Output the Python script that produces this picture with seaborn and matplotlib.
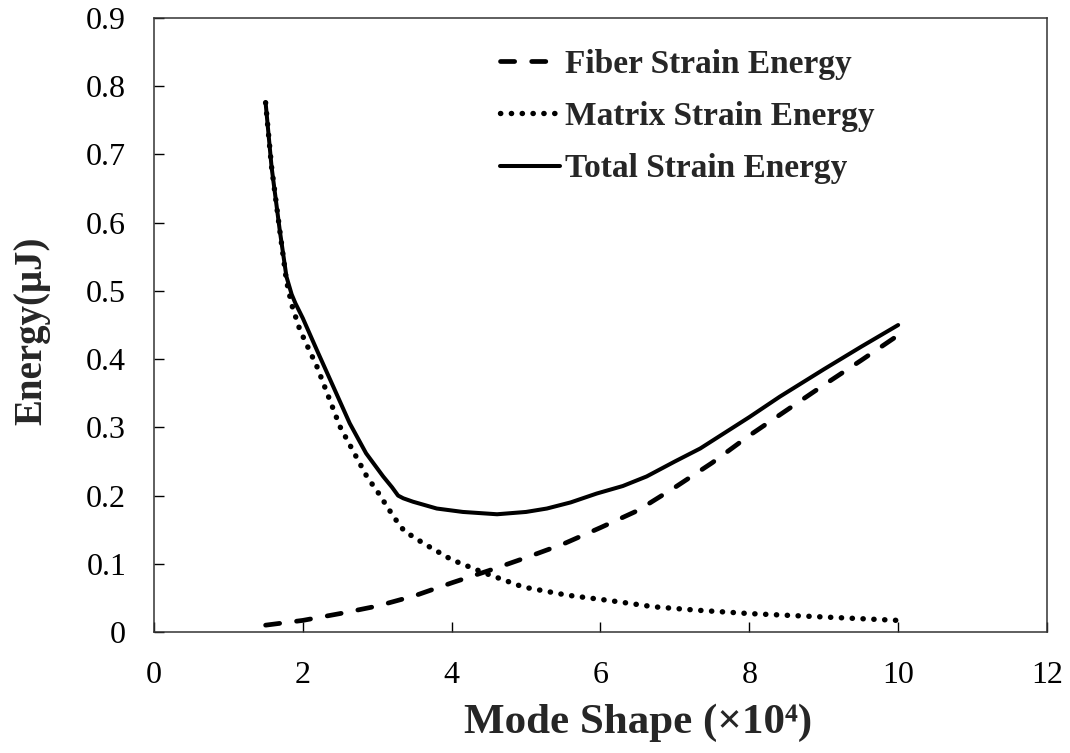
import numpy as np
import pandas as pd
import matplotlib
matplotlib.use("Agg")
import matplotlib.pyplot as plt
import seaborn as sns

# ---- data ----
total_x = [1.5, 1.58, 1.69, 1.78, 1.85, 1.9, 2.0, 2.19, 2.4, 2.63, 2.85, 3.08, 3.2, 3.28,
           3.35, 3.48, 3.8, 4.15, 4.61, 5.0, 5.28, 5.6, 5.95, 6.3, 6.62, 7.0, 7.34, 8.0,
           8.41, 9.0, 9.5, 10.0]
total_y = [0.776, 0.682, 0.589, 0.521, 0.495, 0.482, 0.46, 0.413, 0.362, 0.306, 0.262,
           0.228, 0.212, 0.200, 0.196, 0.191, 0.181, 0.176, 0.1726, 0.176, 0.181, 0.19,
           0.203, 0.214, 0.228, 0.250, 0.269, 0.315, 0.345, 0.385, 0.418, 0.45]

matrix_x = [1.5, 1.58, 1.69, 1.78, 1.85, 1.96, 2.19, 2.5, 2.86, 3.04, 3.13, 3.26, 3.37,
            3.48, 3.62, 4.0, 4.43, 4.96, 5.55, 6.13, 6.71, 7.29, 8.0, 9.0, 10.0]
matrix_y = [0.776, 0.682, 0.589, 0.515, 0.48, 0.443, 0.389, 0.301, 0.228, 0.200, 0.184,
            0.163, 0.147, 0.140, 0.130, 0.106, 0.087, 0.066, 0.054, 0.046, 0.037, 0.032,
            0.027, 0.022, 0.017]

fiber_x = [1.5, 2.0, 2.5, 3.0, 3.5, 4.0, 4.5, 5.0, 5.5, 6.0, 6.5, 7.0, 7.5, 8.0, 8.5,
           9.0, 9.5, 10.0]
fiber_y = [0.010, 0.017, 0.027, 0.038, 0.053, 0.072, 0.090, 0.109, 0.129, 0.153, 0.178,
           0.212, 0.248, 0.288, 0.325, 0.362, 0.398, 0.435]

labels = ["Fiber Strain Energy", "Matrix Strain Energy", "Total Strain Energy"]
x_ticks = [0, 2, 4, 6, 8, 10, 12]
y_ticks = [0, 0.1, 0.2, 0.3, 0.4, 0.5, 0.6, 0.7, 0.8, 0.9]
y_tick_labels = ["0", "0.1", "0.2", "0.3", "0.4", "0.5", "0.6", "0.7", "0.8", "0.9"]

# ---- style ----
sns.set_theme(style="ticks")
plt.rcParams["font.family"] = ["Liberation Serif", "DejaVu Serif"]

fig = plt.figure(figsize=(10.7, 7.53), dpi=100)
ax = fig.add_axes([0.1439, 0.1607, 0.9785 - 0.1439, 0.976 - 0.1607])

fiber_df = pd.DataFrame({"x": fiber_x, "y": fiber_y})
matrix_df = pd.DataFrame({"x": matrix_x, "y": matrix_y})
total_df = pd.DataFrame({"x": total_x, "y": total_y})

sns.lineplot(data=fiber_df, x="x", y="y", ax=ax, color="black", lw=3.4,
             linestyle=(0, (3.0, 3.6)), dash_capstyle="round", label=labels[0])
sns.lineplot(data=matrix_df, x="x", y="y", ax=ax, color="black", lw=3.9,
             linestyle=(0, (0.05, 1.95)), dash_capstyle="round", label=labels[1])
sns.lineplot(data=total_df, x="x", y="y", ax=ax, color="black", lw=2.9,
             solid_capstyle="round", solid_joinstyle="round", label=labels[2])

ax.set_xlim(0, 12)
ax.set_ylim(0, 0.9)
ax.set_xticks(x_ticks)
ax.set_xticklabels([str(t) for t in x_ticks])
ax.set_yticks(y_ticks)
ax.set_yticklabels(y_tick_labels)

ax.tick_params(axis="both", direction="in", length=7, width=1.0, labelsize=23,
               colors="black", pad=20)
ax.tick_params(axis="x", pad=21)
for s in ax.spines.values():
    s.set_linewidth(1.1)
    s.set_color("#333333")

ax.set_xlabel("Mode Shape (×10⁴)", fontsize=31, fontweight="bold")
ax.set_ylabel("Energy(μJ)", fontsize=28, fontweight="bold")
ax.xaxis.set_label_coords(0.542, -0.117)
ax.yaxis.set_label_coords(-0.116, 0.49)

leg = ax.legend(loc="upper left", bbox_to_anchor=(0.387, 0.95), frameon=False,
                prop={"family": ["Liberation Serif"], "weight": "bold", "size": 24},
                handlelength=1.8, handletextpad=0.15, labelspacing=0.64,
                borderaxespad=0, borderpad=0)

fig.savefig("out.png", dpi=100)
